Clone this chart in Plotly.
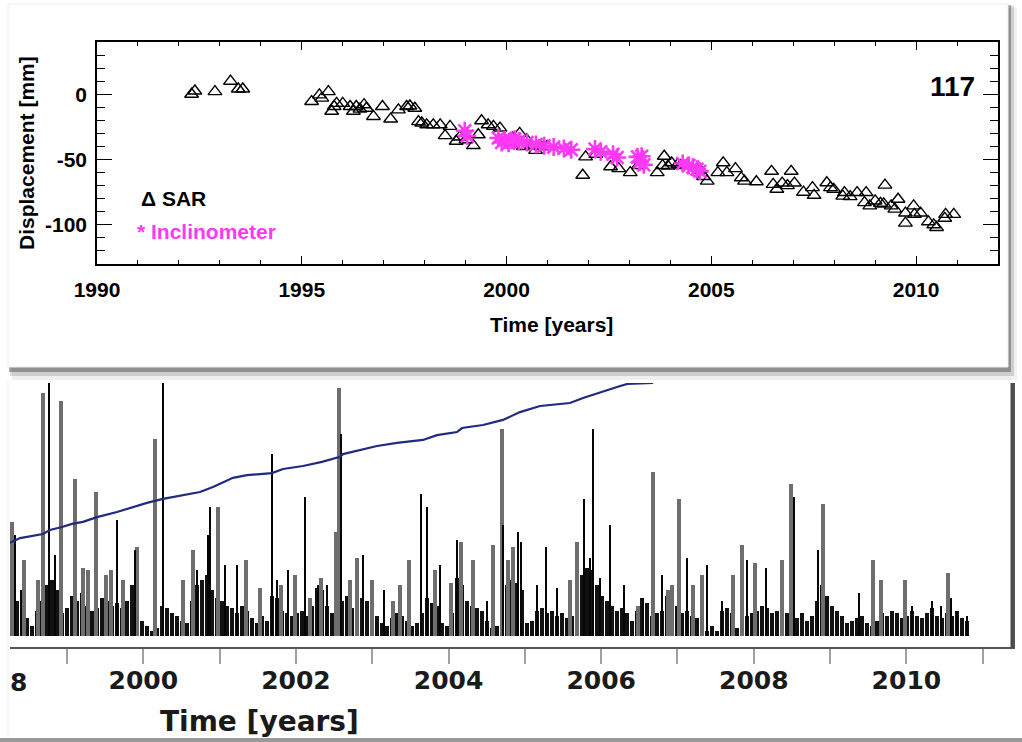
import plotly.graph_objects as go

# ---------------- top panel data (SAR & inclinometer displacement) ----------------
sar_years = [1992.31, 1992.39, 1992.88, 1993.26, 1993.45, 1993.56,
             1995.24, 1995.43, 1995.49, 1995.65, 1995.73, 1995.79, 1995.85, 1996.00,
             1996.18, 1996.26, 1996.33, 1996.42, 1996.52, 1996.58, 1996.75, 1996.97,
             1997.17, 1997.36, 1997.56, 1997.64, 1997.76, 1997.85, 1997.93, 1998.05,
             1998.21, 1998.38, 1998.50, 1998.62, 1998.77, 1998.86, 1999.01, 1999.19,
             1999.31, 1999.39, 1999.55, 1999.68, 1999.84, 2000.15, 2000.32, 2000.41,
             2000.49, 2000.61, 2000.71, 2000.84, 2000.99, 2001.86, 2001.93, 2002.18,
             2002.54, 2002.74, 2003.02, 2003.22, 2003.68, 2003.81, 2003.85, 2003.94,
             2004.03, 2004.18, 2004.25, 2004.72, 2004.81, 2004.90, 2005.16, 2005.29,
             2005.38, 2005.59, 2005.73, 2005.81, 2006.10, 2006.47, 2006.51, 2006.60,
             2006.73, 2006.86, 2006.95, 2007.03, 2007.25, 2007.47, 2007.51, 2007.82,
             2007.91, 2007.99, 2008.21, 2008.25, 2008.39, 2008.56, 2008.74, 2008.78,
             2008.87, 2009.00, 2009.13, 2009.21, 2009.24, 2009.39, 2009.48, 2009.56,
             2009.74, 2009.74, 2009.94, 2009.96, 2010.11, 2010.30, 2010.43, 2010.50,
             2010.70, 2010.72, 2010.92]
sar_mm = [0, 2.5, 2, 10, 4, 4,
          -5.6, -0.5, -3, 2, -13, -9.4, -7, -7,
          -9.4, -13, -9.4, -11.4, -8, -10.7, -17, -9.4,
          -19, -12, -9.4, -9, -10.7, -21, -22, -23.4,
          -23.4, -23.4, -31.7, -24.6, -36, -32.7, -34.8, -39.3,
          -31, -20.3, -23.4, -24.6, -25.9, -33.5, -30, -40,
          -34.8, -39.3, -43, -40, -40, -62, -48, -46,
          -55.5, -57, -60, -54.6, -60, -54.6, -47.5, -55,
          -52.5, -53.8, -54.6, -58, -63, -66.5, -60, -52.5,
          -60, -57, -64, -66.5, -67, -59, -69, -72.8,
          -68, -70, -59, -68, -75, -71.5, -77.4, -67.8,
          -71.5, -72.8, -78, -75.3, -78.4, -75.3, -83, -75.3,
          -85.5, -81.7, -83.5, -84, -69.6, -85.5, -88, -80.4,
          -91, -98.7, -85.5, -92, -91, -97.7, -100, -102,
          -95, -92, -92]

inc_years = [1998.98, 1999.04, 1999.80, 1999.88, 1999.95, 2000.05, 2000.12, 2000.20,
             2000.30, 2000.50, 2000.72, 2000.92, 2001.15, 2001.40, 2001.58,
             2002.16, 2002.30, 2002.60, 2002.70, 2003.20, 2003.30, 2003.25, 2003.35,
             2004.30, 2004.45, 2004.55, 2004.65, 2004.72]
inc_mm = [-28, -32, -33.5, -37, -35, -37.5, -35.5, -34.5,
          -36, -37, -38.5, -39.5, -40.5, -41.5, -42.5,
          -42, -44, -46, -48.5, -48, -47.5, -52, -54,
          -53, -54.5, -56, -57.5, -59]

top_xticks = [1990, 1995, 2000, 2005, 2010]
top_yticks = [-100, -50, 0]
top_yticktext = ["-100", "-50", "0"]

# ---------------- bottom panel data (daily rainfall & cumulative) ----------------
spike_years_gray = [1998.278, 1998.435, 1998.618, 1998.684, 1998.920, 1999.104, 1999.208,
                    1999.274, 1999.379, 1999.510, 1999.575, 1999.733, 1999.916, 2000.152,
                    2000.519, 2000.650, 2000.978, 2001.345, 2001.528, 2001.804, 2001.987,
                    2002.184, 2002.328, 2002.524, 2002.564, 2002.708, 2002.800, 2002.997,
                    2003.272, 2003.363, 2003.481, 2003.822, 2004.032, 2004.163, 2004.320,
                    2004.582, 2004.700, 2004.779, 2004.845, 2005.592, 2005.684, 2006.483,
                    2006.679, 2006.875, 2006.928, 2007.020, 2007.203, 2007.321, 2007.727,
                    2007.845, 2008.016, 2008.370, 2008.488, 2008.907, 2009.562, 2009.667,
                    2009.981, 2010.545]
spike_vals_gray = [45, 30, 22, 96, 93, 62, 27,
                   26, 57, 24, 26, 22, 35, 78,
                   22, 34, 51, 30, 19, 20, 24,
                   15, 23, 41, 98, 22, 31, 22,
                   14, 20, 30, 26, 21, 37, 30,
                   36, 82, 30, 35, 22, 37, 12,
                   65, 18, 20, 54, 20, 24, 24,
                   36, 29, 30, 60, 52, 30, 22,
                   22, 25]
spike_years_black = [1998.317, 1998.396, 1998.763, 1998.841, 1999.654, 1999.890, 2000.257,
                     2000.702, 2000.846, 2000.873, 2001.069, 2001.227, 2001.686, 2001.751,
                     2001.895, 2002.118, 2002.288, 2002.406, 2002.590, 2002.879, 2003.154,
                     2003.638, 2003.717, 2003.888, 2004.110, 2004.504, 2004.713, 2004.910,
                     2004.950, 2005.160, 2005.278, 2005.422, 2005.776, 2005.854, 2005.893,
                     2005.985, 2006.116, 2006.299, 2006.548, 2006.797, 2007.125, 2007.387,
                     2007.583, 2007.911, 2008.160, 2008.527, 2008.842, 2009.379, 2010.073,
                     2010.335, 2010.453, 2010.584, 2010.663, 2010.794]
spike_vals_black = [40, 18, 110, 32, 46, 34, 110,
                    26, 40, 51, 28, 28, 72, 22,
                    26, 55, 20, 20, 80, 32, 18,
                    56, 51, 28, 38, 14, 44, 41,
                    37, 20, 35, 19, 54, 31, 82,
                    23, 44, 20, 15, 24, 31, 28,
                    14, 30, 27, 55, 34, 17, 12,
                    14, 12, 15, 10, 8]

# dense low rainfall, sampled every ~24 days from mid 1998
base_start = 1998.278
base_step = 0.06553
base_vals = [16, 14, 9, 7, 4, 10, 14, 20, 22, 18, 9, 11, 16, 14, 17, 12, 10, 11, 15, 14,
             12, 13, 11, 14, 20, 18, 6, 4, 2, 3, 12, 11, 9, 8, 6, 5, 14, 20, 22, 24,
             18, 15, 14, 12, 11, 9, 12, 10, 7, 5, 8, 6, 16, 15, 10, 9, 8, 9, 10, 8,
             12, 19, 18, 12, 9, 8, 14, 16, 11, 13, 15, 14, 12, 8, 5, 4, 7, 9, 8, 6,
             4, 5, 9, 15, 13, 12, 5, 4, 9, 23, 20, 14, 12, 11, 10, 6, 3, 4, 22, 20,
             22, 21, 18, 5, 6, 10, 11, 9, 10, 8, 9, 7, 8, 14, 24, 27, 26, 20, 16, 14,
             12, 10, 11, 9, 6, 10, 15, 13, 8, 9, 10, 16, 15, 12, 9, 10, 8, 7, 3, 2,
             4, 2, 10, 11, 9, 3, 4, 8, 9, 10, 12, 11, 9, 10, 12, 9, 8, 7, 9, 6,
             8, 14, 20, 16, 12, 10, 8, 5, 6, 7, 8, 5, 4, 6, 9, 8, 10, 9, 7, 8,
             10, 8, 7, 9, 11, 8, 7, 9, 8, 10, 7, 6]
base_years = [base_start + i * base_step for i in range(len(base_vals))]

cum_years = [1998.252, 1998.383, 1998.684, 1998.776, 1998.933, 1999.064, 1999.208, 1999.392,
             1999.654, 1999.864, 2000.047, 2000.257, 2000.388, 2000.742, 2000.912, 2001.174,
             2001.358, 2001.685, 2001.830, 2002.092, 2002.341, 2002.577, 2002.616, 2002.839,
             2003.062, 2003.324, 2003.665, 2003.848, 2004.110, 2004.176, 2004.451, 2004.713,
             2004.936, 2005.198, 2005.591, 2005.762, 2005.985, 2006.208, 2006.339, 2006.680]
cum_vals = [36.9, 38.7, 40.3, 41.9, 43.1, 44.3, 45.1, 47.0,
            49.0, 51.0, 52.6, 54.2, 54.9, 56.9, 58.9, 62.5,
            63.6, 64.4, 66.0, 67.2, 68.8, 70.8, 71.9, 73.5,
            75.1, 76.3, 77.5, 79.4, 80.6, 82.2, 83.4, 85.4,
            88.5, 90.9, 92.1, 94.1, 96.4, 98.4, 99.6, 100.0]

bottom_xticks = [2000, 2002, 2004, 2006, 2008, 2010]

# ---------------- figure ----------------
W, H = 1022, 742


def px(x):
    return x / W


def py(y):
    return 1 - y / H


BOLD = dict(family="Liberation Sans, Arial, sans-serif", weight="bold", color="black")
BOLD2 = dict(family="DejaVu Sans, Verdana, sans-serif", weight="bold", color="#1a1a1a")
MAGENTA = "#ff38f5"

fig = go.Figure()

fig.add_trace(go.Scatter(
    x=sar_years, y=sar_mm, mode="markers", name="SAR",
    marker=dict(symbol="triangle-up-open", size=12, color="black", line=dict(width=1.4, color="black")),
    xaxis="x", yaxis="y", showlegend=False))
fig.add_trace(go.Scatter(
    x=inc_years, y=inc_mm, mode="markers", name="Inclinometer",
    marker=dict(symbol="asterisk-open", size=15, color=MAGENTA, line=dict(width=2.6, color=MAGENTA)),
    xaxis="x", yaxis="y", showlegend=False))

fig.add_trace(go.Bar(x=base_years, y=base_vals, width=0.055, marker=dict(color="#111", line=dict(width=0)),
                     xaxis="x2", yaxis="y2", showlegend=False))
fig.add_trace(go.Bar(x=spike_years_gray, y=spike_vals_gray, width=0.042,
                     marker=dict(color="#6e6e6e", line=dict(width=0)),
                     xaxis="x2", yaxis="y2", showlegend=False))
fig.add_trace(go.Bar(x=spike_years_black, y=spike_vals_black, width=0.028,
                     marker=dict(color="#050505", line=dict(width=0)),
                     xaxis="x2", yaxis="y2", showlegend=False))
fig.add_trace(go.Scatter(x=cum_years, y=cum_vals, mode="lines",
                         line=dict(color="#1f2a80", width=2.2),
                         xaxis="x2", yaxis="y3", showlegend=False))

shapes = []
for (x0, y0, x1, y1, c) in [(12, 8, 1017, 380, "rgba(0,0,0,0.06)"),
                            (10, 6, 1014, 376, "rgba(0,0,0,0.14)"),
                            (9, 5, 1011, 372, "rgba(0,0,0,0.30)")]:
    shapes.append(dict(type="rect", xref="paper", yref="paper", x0=px(x0), x1=px(x1),
                       y0=py(y1), y1=py(y0), fillcolor=c, line=dict(width=0), layer="below"))
shapes.append(dict(type="rect", xref="paper", yref="paper", x0=px(8), x1=px(1008),
                   y0=py(367), y1=py(4), fillcolor="white", line=dict(width=1, color="#ececec"),
                   layer="below"))
shapes.append(dict(type="line", xref="paper", yref="paper", x0=px(8), x1=px(8), y0=py(739), y1=py(382),
                   line=dict(width=1, color="#eeeeee"), layer="below"))
shapes.append(dict(type="rect", xref="paper", yref="paper", x0=0, x1=1, y0=0, y1=py(738),
                   fillcolor="#9a9a9a", line=dict(width=0), layer="below"))
# right frame of the lower panel
shapes.append(dict(type="rect", xref="paper", yref="paper", x0=px(1010.5), x1=px(1013.5),
                   y0=py(648), y1=py(383), fillcolor="#4a4a4a", line=dict(width=0), layer="above"))


def ann(text, x, y, size, font, **kw):
    d = dict(text=text, x=px(x), y=py(y), xref="paper", yref="paper", showarrow=False,
             xanchor="center", yanchor="middle", font=dict(size=size, **font))
    d.update(kw)
    return d


annotations = [
    ann("Time [years]", 551, 325, 21, BOLD),
    ann("Displacement [mm]", 26, 153, 21, BOLD, textangle=-90),
    ann("\u0394 SAR", 139, 198, 21, BOLD, xanchor="left"),
    ann("* Inclinometer", 135, 231, 21, dict(family=BOLD["family"], weight="bold", color=MAGENTA),
        xanchor="left"),
    ann("8", 18, 682, 25, BOLD2),
    ann("Time [years]", 259, 721, 28, BOLD2),
    dict(text="117", x=2011.49, y=6.3, xref="x", yref="y", xanchor="right", yanchor="middle",
         showarrow=False, font=dict(size=28, **BOLD)),
]

fig.update_layout(
    width=W, height=H, autosize=False,
    margin=dict(l=0, r=0, t=0, b=0, pad=0, autoexpand=False),
    paper_bgcolor="white", plot_bgcolor="white",
    barmode="overlay", bargap=0,
    shapes=shapes, annotations=annotations,
    xaxis=dict(domain=[px(97), px(998)], range=[1990, 2012], anchor="y", automargin=False,
               tickmode="array", tickvals=top_xticks,
               ticks="inside", ticklen=8, tickwidth=1.3, tickcolor="black",
               minor=dict(dtick=1, tick0=1990, ticks="inside", ticklen=4, tickcolor="black"),
               showline=True, linecolor="black", linewidth=1.6, mirror="allticks",
               showgrid=False, zeroline=False, tickfont=dict(size=21, **BOLD), ticklabelstandoff=6),
    yaxis=dict(domain=[py(264), py(42)], range=[-130, 40], anchor="x", automargin=False,
               tickmode="array", tickvals=top_yticks, ticktext=top_yticktext,
               ticks="inside", ticklen=15, tickwidth=1.3, tickcolor="black",
               minor=dict(dtick=10, tick0=0, ticks="inside", ticklen=8, tickcolor="black"),
               showline=True, linecolor="black", linewidth=1.6, mirror="allticks",
               showgrid=False, zeroline=False, tickfont=dict(size=21, **BOLD), ticklabelstandoff=4),
    xaxis2=dict(domain=[px(10), px(1012)], range=[1998.252, 2011.384], anchor="y2", automargin=False,
                tickmode="array", tickvals=bottom_xticks,
                ticks="outside", ticklen=15, tickwidth=1.5, tickcolor="#a0a0a0",
                minor=dict(dtick=1, tick0=2000, ticks="outside", ticklen=15, tickcolor="#a0a0a0"),
                showline=True, linecolor="#555", linewidth=2,
                showgrid=False, zeroline=False, tickfont=dict(size=25, **BOLD2), ticklabelstandoff=-5),
    yaxis2=dict(domain=[py(647), py(383)], range=[-4.35, 100], anchor="x2", automargin=False,
                side="right", showline=True, linecolor="#555", linewidth=3,
                ticks="", showticklabels=False, showgrid=False, zeroline=False),
    yaxis3=dict(domain=[py(647), py(383)], range=[-4.35, 100], overlaying="y2", anchor="x2",
                automargin=False, visible=False, showgrid=False, zeroline=False),
)

fig.write_html(
    "out.html", config={"displayModeBar": False},
    post_script=("document.documentElement.style.margin='0px';"
                 "document.body.style.margin='0px';"
                 "document.documentElement.style.overflow='hidden';"
                 "document.body.style.overflow='hidden';"))
